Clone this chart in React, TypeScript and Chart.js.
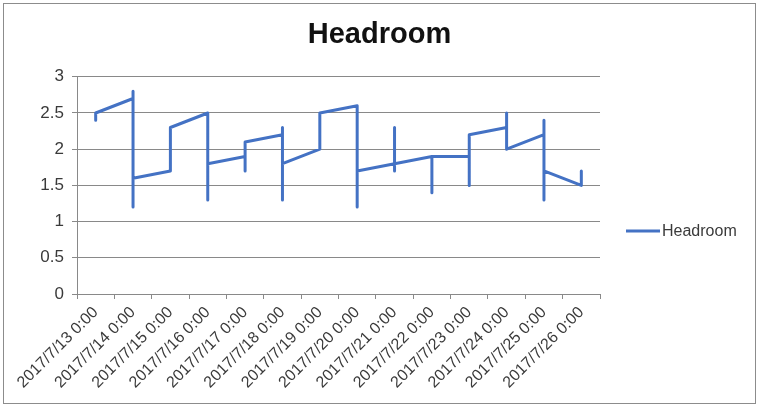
import React, { useEffect, useRef } from 'react';
import { Chart, registerables } from 'chart.js';

Chart.register(...registerables);

const categories = [
  '2017/7/13 0:00', '2017/7/14 0:00', '2017/7/15 0:00', '2017/7/16 0:00',
  '2017/7/17 0:00', '2017/7/18 0:00', '2017/7/19 0:00', '2017/7/20 0:00',
  '2017/7/21 0:00', '2017/7/22 0:00', '2017/7/23 0:00', '2017/7/24 0:00',
  '2017/7/25 0:00', '2017/7/26 0:00',
];

// category index of each reading (several readings share one day)
const pointDay = [
  0, 0,
  1, 1, 1, 1,
  2, 2,
  3, 3, 3,
  4, 4, 4,
  5, 5, 5, 5,
  6, 6,
  7, 7, 7,
  8, 8, 8, 8,
  9, 9, 9,
  10, 10, 10,
  11, 11, 11,
  12, 12, 12, 12,
  13, 13,
];

const headroom = [
  2.4, 2.5,
  2.7, 2.8, 1.2, 1.6,
  1.7, 2.3,
  2.5, 1.3, 1.8,
  1.9, 1.7, 2.1,
  2.2, 2.3, 1.3, 1.8,
  2.0, 2.5,
  2.6, 1.2, 1.7,
  1.8, 2.3, 1.7, 1.8,
  1.9, 1.4, 1.9,
  1.9, 1.5, 2.2,
  2.3, 2.5, 2.0,
  2.2, 2.4, 1.3, 1.7,
  1.5, 1.7,
];

const seriesName = 'Headroom';
const yMin = 0;
const yMax = 3;
const yStep = 0.5;

const FONT = '"Liberation Sans", Arial, sans-serif';
const LINE_COLOR = '#4472C4';
const AXIS_COLOR = '#898989';
const TEXT_COLOR = '#3a3a3a';

const frame = {
  id: 'frame',
  beforeDraw(chart: any) {
    const { ctx, width, height } = chart;
    ctx.save();
    ctx.fillStyle = '#ffffff';
    ctx.fillRect(0, 0, width, height);
    ctx.strokeStyle = '#8c8c8c';
    ctx.lineWidth = 1;
    ctx.strokeRect(3.5, 3.5, width - 7, height - 7);
    ctx.restore();
  },
};

const sideLegend = {
  id: 'sideLegend',
  afterDraw(chart: any) {
    const { ctx, chartArea } = chart;
    const ds = chart.data.datasets[0];
    const y = 231;
    const x0 = chartArea.right + 26;
    ctx.save();
    ctx.strokeStyle = ds.borderColor;
    ctx.lineWidth = 3;
    ctx.beginPath();
    ctx.moveTo(x0, y);
    ctx.lineTo(x0 + 34, y);
    ctx.stroke();
    ctx.font = `16px ${FONT}`;
    ctx.fillStyle = TEXT_COLOR;
    ctx.textAlign = 'left';
    ctx.textBaseline = 'middle';
    ctx.fillText(ds.label, x0 + 36, y + 1);
    ctx.restore();
  },
};

export default function App() {
  const ref = useRef<HTMLCanvasElement>(null);

  useEffect(() => {
    document.body.style.margin = '0';
    const canvas = ref.current;
    if (!canvas) return;
    const chart = new Chart(canvas, {
      type: 'line',
      data: {
        labels: categories,
        datasets: [
          {
            label: seriesName,
            data: headroom.map((v, i) => ({ x: categories[pointDay[i]], y: v })),
            borderColor: LINE_COLOR,
            backgroundColor: LINE_COLOR,
            borderWidth: 3,
            pointRadius: 0,
            tension: 0,
            borderCapStyle: 'round',
            borderJoinStyle: 'round',
            fill: false,
          },
        ],
      },
      options: {
        animation: false,
        responsive: false,
        devicePixelRatio: 1,
        layout: { padding: 0 },
        plugins: {
          legend: { display: false },
          tooltip: { enabled: false },
          title: {
            display: true,
            text: seriesName,
            color: '#111111',
            font: { family: FONT, size: 29, weight: 'bold' },
            padding: { top: 18, bottom: 24 },
          },
        },
        scales: {
          x: {
            type: 'category',
            offset: true,
            grid: {
              offset: true,
              drawOnChartArea: false,
              drawTicks: true,
              tickLength: 5,
              color: AXIS_COLOR,
            },
            border: { color: AXIS_COLOR },
            ticks: {
              autoSkip: false,
              minRotation: 45,
              maxRotation: 45,
              padding: 4,
              color: TEXT_COLOR,
              font: { family: FONT, size: 16 },
            },
            afterFit: (s: any) => {
              s.height = 113;
            },
          },
          y: {
            min: yMin,
            max: yMax,
            grid: { color: AXIS_COLOR, tickLength: 5 },
            border: { color: AXIS_COLOR },
            ticks: {
              stepSize: yStep,
              padding: 8,
              color: TEXT_COLOR,
              font: { family: FONT, size: 17 },
              callback: (v: any) => `${+v}`,
            },
            afterFit: (s: any) => {
              s.width = 77;
            },
          },
          y2: {
            type: 'linear',
            position: 'right',
            display: true,
            grid: { display: false },
            border: { display: false },
            ticks: { display: false },
            afterFit: (s: any) => {
              s.width = 159;
            },
          },
        },
      } as any,
      plugins: [frame, sideLegend],
    });
    return () => chart.destroy();
  }, []);

  return (
    <div style={{ width: 759, height: 407 }}>
      <canvas ref={ref} width={759} height={407} style={{ display: 'block', width: 759, height: 407 }} />
    </div>
  );
}
